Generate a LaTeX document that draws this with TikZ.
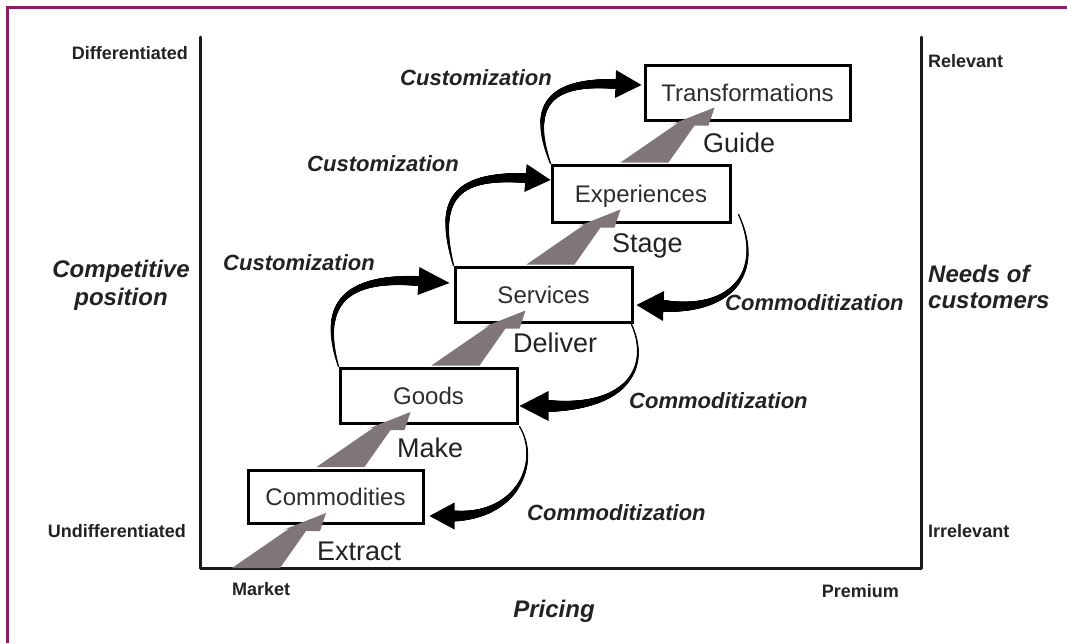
\documentclass[tikz,border=0pt]{standalone}
\usepackage{fontspec}
\setmainfont{Liberation Sans}
\usetikzlibrary{calc,decorations.markings}
\definecolor{framec}{RGB}{139,30,100}
\definecolor{wedgec}{RGB}{128,118,122}
\definecolor{txt}{RGB}{34,34,34}
\definecolor{boxtxt}{RGB}{45,45,45}
\tikzset{
  taper/.style n args={3}{decorate, decoration={markings,
    mark=between positions 0 and 1 step 0.5pt with {%
      \pgfmathsetmacro\tfrac{(\pgfkeysvalueof{/pgf/decoration/mark info/distance from start})/(\pgfdecoratedpathlength)}%
      \pgfmathsetmacro\trad{#1+(#2-#1)*(\tfrac+0.0001)^#3}%
      \fill[black] (0,0) circle[radius=\trad pt];}}},
  axisline/.style={line width=3pt, draw=black!90, line join=round, line cap=round},
  framel/.style={line width=3pt, draw=framec},
  box/.style={draw=black, line width=3pt, fill=white, inner sep=0pt,
    font=\fontsize{24}{28}\selectfont, text=boxtxt, text height=17.2pt, text depth=0pt},
  smalllab/.style={font=\fontsize{18}{20}\selectfont\bfseries, text=txt, inner sep=0pt},
  biglab/.style={font=\fontsize{24}{28}\selectfont\bfseries\itshape, text=txt, inner sep=0pt},
  itallab/.style={font=\fontsize{22}{24}\selectfont\bfseries\itshape, text=txt, inner sep=0pt},
  actlab/.style={font=\fontsize{27}{30}\selectfont, text=txt, inner sep=0pt},
  wedge/.style={fill=wedgec}
}
% tapered curved arrow: S, c1, c2, E, T, r0, r1, exponent, head half width
\newcommand\tapearrow[9]{%
  \path[taper={#6}{#7}{#8}] (#1) .. controls (#2) and (#3) .. (#4);
  \fill[black] ($(#4)!#9!90:(#5)$) -- (#5) -- ($(#4)!#9!-90:(#5)$) -- cycle;
}
\newcommand\wedgeat[1]{%
  \fill[wedge, shift={#1}] (0,0) -- (48,0) -- (74,-37) -- (88,-37) -- (94,-55) -- (51,-38) -- (58,-40) -- cycle;
}
\begin{document}
\begin{tikzpicture}[x=1pt,y=-1pt]
\useasboundingbox (0,0) rectangle (1067,643);
\fill[white] (0,0) rectangle (1067,643);
% frame
\draw[framel] (7,643) -- (7,7) -- (1067,7);
% axes
\coordinate (axtl) at (200,37);
\coordinate (axbl) at (200,568);
\coordinate (axbr) at (921,568);
\coordinate (axtr) at (921,37);
\draw[axisline] (axtl) -- (axbl) -- (axbr) -- (axtr);

% axis labels
\node[smalllab, anchor=base east] (diff) at (188,59) {Differentiated};
\node[smalllab, anchor=base east] (undiff) at (186,537) {Undifferentiated};
\node[smalllab, anchor=base west] (rel) at (928,67) {Relevant};
\node[smalllab, anchor=base west] (irr) at (928,537) {Irrelevant};
\node[smalllab, anchor=base west] (mkt) at (232,595) {Market};
\node[smalllab, anchor=base east] (prem) at (899,597) {Premium};
\node[biglab, anchor=base] (pricing) at (554,617) {Pricing};
\node[biglab, anchor=base] (comp1) at (121,277) {Competitive};
\node[biglab, anchor=base] (comp2) at (121,305) {position};
\node[biglab, anchor=base west] (need1) at (928,282) {Needs of};
\node[biglab, anchor=base west] (need2) at (928,308) {customers};

% boxes
\node[box, minimum width=175pt, minimum height=53pt] (com) at (335.5,496.5) {Commodities};
\node[box, minimum width=177pt, minimum height=55pt] (goods) at (428.5,395.5) {Goods};
\node[box, minimum width=177pt, minimum height=55pt] (serv) at (543.5,294.5) {Services};
\node[box, minimum width=178pt, minimum height=57pt] (exp) at (641,193.5) {Experiences};
\node[box, minimum width=205pt, minimum height=55pt] (trans) at (747.5,92.5) {Transformations};

% wedges
\wedgeat{($(axbl)+(32,0)$)}
\wedgeat{($(com.north west)+(70,-1.5)$)}
\wedgeat{($(goods.north west)+(93,-1)$)}
\wedgeat{($(serv.north west)+(73,-1)$)}
\wedgeat{($(exp.north west)+(70,-1)$)}

% action labels
\node[actlab, anchor=base west] (extract) at (317,560) {Extract};
\node[actlab, anchor=base west] (make) at (397,457) {Make};
\node[actlab, anchor=base west] (deliver) at (513,352) {Deliver};
\node[actlab, anchor=base west] (stage) at (612,252) {Stage};
\node[actlab, anchor=base west] (guide) at (703,152) {Guide};

% customization arrows
\coordinate (a1s) at (goods.north west);
\coordinate (a1t) at ($(serv.west)+(-4,-11.5)$);
\coordinate (a1e) at ($(a1t)+(-31,-2)$);
\tapearrow{a1s}{318,300}{350,277}{a1e}{a1t}{0.7}{5}{1}{14pt}
\coordinate (a2s) at (serv.north west);
\coordinate (a2t) at ($(exp.west)+(0,-13.5)$);
\coordinate (a2e) at ($(a2t)+(-25,-2)$);
\tapearrow{a2s}{435,197}{457,175}{a2e}{a2t}{0.7}{5}{1}{14pt}
\coordinate (a3s) at (exp.north west);
\coordinate (a3t) at ($(trans.west)+(-2,-7.5)$);
\coordinate (a3e) at ($(a3t)+(-26,-1)$);
\tapearrow{a3s}{528,103}{552,81}{a3e}{a3t}{0.7}{5}{1}{14pt}

% commoditization arrows
\coordinate (b1s) at ($(exp.south east)+(7,-9)$);
\coordinate (b1t) at ($(serv.east)+(3,10.5)$);
\coordinate (b1e) at ($(b1t)+(27,1)$);
\tapearrow{b1s}{762,265}{740,312}{b1e}{b1t}{0.7}{6}{1.8}{15pt}
\coordinate (b2s) at ($(serv.south east)+(-2,1)$);
\coordinate (b2t) at ($(goods.east)+(1,10.5)$);
\coordinate (b2e) at ($(b2t)+(29,0)$);
\tapearrow{b2s}{650,365}{630,408}{b2e}{b2t}{0.7}{6}{1.8}{15pt}
\coordinate (b3s) at ($(goods.south east)+(1,2)$);
\coordinate (b3t) at ($(com.east)+(5,19.5)$);
\coordinate (b3e) at ($(b3t)+(25,0)$);
\tapearrow{b3s}{540,460}{520,516}{b3e}{b3t}{0.7}{5.5}{1.8}{13.5pt}

% arrow labels
\node[itallab, anchor=base west] (cu1) at (400,85) {Customization};
\node[itallab, anchor=base west] (cu2) at (307,171) {Customization};
\node[itallab, anchor=base west] (cu3) at (223,270) {Customization};
\node[itallab, anchor=base west] (co1) at (725,310) {Commoditization};
\node[itallab, anchor=base west] (co2) at (629,408) {Commoditization};
\node[itallab, anchor=base west] (co3) at (527,520) {Commoditization};
\end{tikzpicture}
\end{document}
